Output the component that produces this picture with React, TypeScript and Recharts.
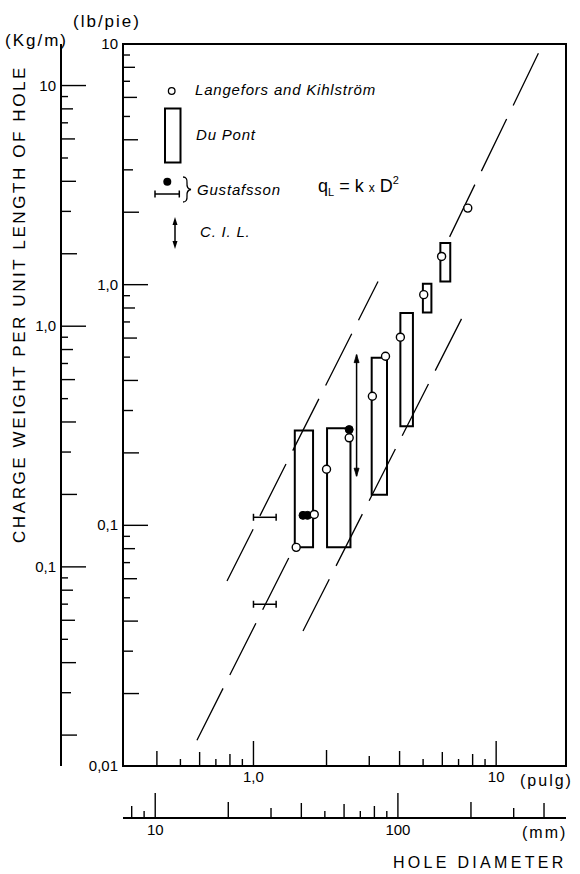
import React from 'react';
import { ComposedChart, XAxis, YAxis, Line, Scatter, ReferenceArea } from 'recharts';

const FONT = '"Liberation Sans", Arial, sans-serif';

// plotting units: inches (pulg) and lb/pie; mm and Kg/m axes are conversions
const X_DOMAIN_IN = [0.29, 19.4];
const Y_DOMAIN_LB = [0.01, 10];
const MM_PER_IN = 25.4;
const KGM_PER_LBFT = 1.488;

const inchTicks = [0.4, 0.5, 0.6, 0.7, 0.8, 0.9, 1, 2, 3, 4, 5, 6, 7, 8, 9, 10];
const inchLabelValues = [1, 10];
const inchLabelTexts = ['1,0', '10'];

const mmTicks = [8, 9, 10, 20, 30, 40, 50, 60, 70, 80, 90, 100, 200, 300, 400];
const mmLabelValues = [10, 100];
const mmLabelTexts = ['10', '100'];

const lbTicks = [
  0.01, 0.02, 0.03, 0.04, 0.05, 0.06, 0.07, 0.08, 0.09, 0.1,
  0.2, 0.3, 0.4, 0.5, 0.6, 0.7, 0.8, 0.9, 1,
  2, 3, 4, 5, 6, 7, 8, 9, 10,
];
const lbLabelValues = [0.01, 0.1, 1, 10];
const lbLabelTexts = ['0,01', '0,1', '1,0', '10'];

const kgTicks = [
  0.02, 0.03, 0.04, 0.05, 0.06, 0.07, 0.08, 0.09, 0.1,
  0.2, 0.3, 0.4, 0.5, 0.6, 0.7, 0.8, 0.9, 1,
  2, 3, 4, 5, 6, 7, 8, 9, 10,
];
const kgLabelValues = [0.1, 1, 10];
const kgLabelTexts = ['0,1', '1,0', '10'];

// Langefors and Kihlström (open circles)
const lkDiam = [1.5, 1.78, 2.0, 2.48, 3.09, 3.5, 4.03, 5.03, 5.96, 7.64];
const lkCharge = [0.081, 0.111, 0.171, 0.231, 0.344, 0.504, 0.605, 0.909, 1.31, 2.08];

// Du Pont (boxes)
const dpDiamLo = [1.48, 2.01, 3.07, 4.03, 4.99, 5.89];
const dpDiamHi = [1.76, 2.51, 3.55, 4.54, 5.41, 6.47];
const dpChargeLo = [0.081, 0.081, 0.134, 0.258, 0.767, 1.03];
const dpChargeHi = [0.248, 0.253, 0.497, 0.763, 1.01, 1.49];

// Gustafsson (filled dots and diameter ranges)
const gDotDiam = [1.6, 1.67, 2.48];
const gDotCharge = [0.11, 0.11, 0.25];
const gRangeLo = [1.0, 1.0];
const gRangeHi = [1.24, 1.24];
const gRangeCharge = [0.108, 0.047];

// C.I.L. (vertical range)
const cilDiam = [2.66, 2.66];
const cilCharge = [0.512, 0.16];

// q = k x D^2 guide lines (end points)
const upperDiam = [0.778, 3.26];
const upperCharge = [0.0587, 1.03];
const midLowDiam = [0.585, 1.415];
const midLowCharge = [0.0128, 0.075];
const midHighDiam = [6.43, 15.5];
const midHighCharge = [1.58, 9.9];
const lowerDiam = [1.6, 7.53];
const lowerCharge = [0.0364, 0.788];

const TICK_LEN = [0, 25, 16, 10, 15, 7, 14, 7, 12, 7];

// axis ids: the inner (lb/pie) axis must sort first to sit next to the plot
const LB = 'a_lb';
const KG = 'b_kg';

const pts = (xs: number[], ys: number[]) => xs.map((x, i) => ({ x, y: ys[i] }));

const tickLen = (v: number) => {
  const e = Math.floor(Math.log10(v) + 1e-9);
  const m = Math.round(v / Math.pow(10, e));
  return TICK_LEN[m] || 7;
};

const labelFor = (v: number, vals: number[], texts: string[]) => {
  const i = vals.findIndex((a) => Math.abs(a - v) < a * 1e-6);
  return i >= 0 ? texts[i] : null;
};

const makeXTick = (vals: number[], texts: string[], dy: number) => (props: any) => {
  const { x, y, payload } = props;
  const v = payload.value;
  const label = labelFor(v, vals, texts);
  return (
    <g>
      <line x1={x} x2={x} y1={y} y2={y - tickLen(v)} stroke="#000" strokeWidth={1.4} />
      {label && (
        <text x={x} y={y + dy} textAnchor="middle" fontSize={15} fontFamily={FONT} fill="#000">
          {label}
        </text>
      )}
    </g>
  );
};

const makeYTick = (vals: number[], texts: string[]) => (props: any) => {
  const { x, y, payload } = props;
  const v = payload.value;
  const label = labelFor(v, vals, texts);
  return (
    <g>
      <line x1={x} x2={x + tickLen(v)} y1={y} y2={y} stroke="#000" strokeWidth={1.4} />
      {label && (
        <text x={x - 5} y={y + 5} textAnchor="end" fontSize={15} fontFamily={FONT} fill="#000">
          {label}
        </text>
      )}
    </g>
  );
};

const openCircle = (p: any) => (
  <circle cx={p.cx} cy={p.cy} r={4} fill="#fff" stroke="#000" strokeWidth={1.4} />
);
const filledDot = (p: any) => <circle cx={p.cx} cy={p.cy} r={4} fill="#000" stroke="#000" />;
const noShape = () => <g />;
const capDot = (p: any) => (
  <line key={p.index} x1={p.cx} x2={p.cx} y1={p.cy - 3.5} y2={p.cy + 3.5} stroke="#000" strokeWidth={1.5} />
);
const arrowDot = (p: any) => {
  const dir = p.index === 0 ? -1 : 1;
  const { cx, cy } = p;
  return (
    <path
      key={p.index}
      d={`M${cx},${cy} L${cx - 2.5},${cy - dir * 8} L${cx + 2.5},${cy - dir * 8} Z`}
      fill="#000"
      stroke="#000"
      strokeWidth={0.8}
    />
  );
};

const dash = '58 15';
const lineStyle = { stroke: '#000', strokeWidth: 1.3 };

const Overlay = () => (
  <svg
    width={580}
    height={874}
    style={{ position: 'absolute', left: 0, top: 0, pointerEvents: 'none' }}
    fontFamily={FONT}
  >
    <text x={5} y={46} fontSize={17} letterSpacing={2}>(Kg/m)</text>
    <text x={73} y={27} fontSize={17} letterSpacing={2}>(lb/pie)</text>
    <text transform="translate(25,304) rotate(-90)" textAnchor="middle" fontSize={17} letterSpacing={2.6}>
      CHARGE WEIGHT PER UNIT LENGTH OF HOLE
    </text>
    <text x={520} y={786} fontSize={16} letterSpacing={2}>(pulg)</text>
    <text x={522} y={838} fontSize={16} letterSpacing={2}>(mm)</text>
    <text x={393} y={868} fontSize={16} letterSpacing={3.3}>HOLE DIAMETER</text>

    {/* key */}
    <circle cx={171.7} cy={91} r={3.3} fill="#fff" stroke="#000" strokeWidth={1.3} />
    <text x={195} y={95} fontSize={15} fontStyle="italic" letterSpacing={0.8}>Langefors and Kihlström</text>
    <rect x={165} y={108.5} width={15.5} height={54} fill="none" stroke="#000" strokeWidth={2} />
    <text x={196} y={140} fontSize={15} fontStyle="italic" letterSpacing={0.8}>Du Pont</text>
    <circle cx={167.3} cy={181.7} r={4} fill="#000" />
    <line x1={155} x2={179.3} y1={194} y2={194} stroke="#000" strokeWidth={1.5} />
    <line x1={155} x2={155} y1={190.5} y2={197.5} stroke="#000" strokeWidth={1.5} />
    <line x1={179.3} x2={179.3} y1={190.5} y2={197.5} stroke="#000" strokeWidth={1.5} />
    <path
      d="M183,177 Q187.5,177 187,183 Q186.5,189 191,189.5 Q186.5,190 187,196 Q187.5,202 183,202"
      fill="none"
      stroke="#000"
      strokeWidth={1.3}
    />
    <text x={197} y={195} fontSize={15} fontStyle="italic" letterSpacing={0.8}>Gustafsson</text>
    <text x={318} y={192} fontSize={18}>
      q<tspan dy={4} fontSize={11}>L</tspan>
      <tspan dy={-4}> = k </tspan>
      <tspan fontSize={12}>x</tspan>
      <tspan> D</tspan>
      <tspan dy={-8} fontSize={11}>2</tspan>
    </text>
    <line x1={175} x2={175} y1={220} y2={246} stroke="#000" strokeWidth={1.5} />
    <path d="M175,217 L172.5,225 L177.5,225 Z" fill="#000" />
    <path d="M175,249 L172.5,241 L177.5,241 Z" fill="#000" />
    <text x={200} y={237} fontSize={15} fontStyle="italic" letterSpacing={0.8}>C. I. L.</text>
  </svg>
);

export default function App() {
  const mmDomain = [X_DOMAIN_IN[0] * MM_PER_IN, X_DOMAIN_IN[1] * MM_PER_IN];
  const kgDomain = [Y_DOMAIN_LB[0] * KGM_PER_LBFT, Y_DOMAIN_LB[1] * KGM_PER_LBFT];
  const axisLine = { stroke: '#000', strokeWidth: 2 };

  return (
    <div style={{ position: 'absolute', left: 0, top: 0, width: 580, height: 874, background: '#fff' }}>
      <ComposedChart width={580} height={874} margin={{ top: 44, right: 14, bottom: 26, left: 0 }}>
        <XAxis
          xAxisId="in"
          dataKey="x"
          type="number"
          scale="log"
          domain={X_DOMAIN_IN}
          allowDataOverflow
          ticks={inchTicks}
          interval={0}
          height={52}
          tickSize={0}
          tickMargin={0}
          tickLine={false}
          axisLine={axisLine}
          tick={makeXTick(inchLabelValues, inchLabelTexts, 16)}
        />
        <XAxis
          xAxisId="mm"
          dataKey="x"
          type="number"
          scale="log"
          domain={mmDomain}
          allowDataOverflow
          ticks={mmTicks}
          interval={0}
          height={30}
          tickSize={0}
          tickMargin={0}
          tickLine={false}
          axisLine={axisLine}
          tick={makeXTick(mmLabelValues, mmLabelTexts, 17)}
        />
        <YAxis
          yAxisId={LB}
          dataKey="y"
          type="number"
          scale="log"
          domain={Y_DOMAIN_LB}
          allowDataOverflow
          ticks={lbTicks}
          interval={0}
          width={62}
          tickSize={0}
          tickMargin={0}
          tickLine={false}
          axisLine={axisLine}
          tick={makeYTick(lbLabelValues, lbLabelTexts)}
        />
        <YAxis
          yAxisId={KG}
          type="number"
          scale="log"
          domain={kgDomain}
          allowDataOverflow
          ticks={kgTicks}
          interval={0}
          width={61}
          tickSize={0}
          tickMargin={0}
          tickLine={false}
          axisLine={axisLine}
          tick={makeYTick(kgLabelValues, kgLabelTexts)}
        />

        <ReferenceArea
          xAxisId="in"
          yAxisId={LB}
          x1={X_DOMAIN_IN[0]}
          x2={X_DOMAIN_IN[1]}
          y1={Y_DOMAIN_LB[0]}
          y2={Y_DOMAIN_LB[1]}
          fill="none"
          fillOpacity={0}
          stroke="#000"
          strokeWidth={2}
        />

        <Line xAxisId="in" yAxisId={LB} data={pts(upperDiam, upperCharge)} dataKey="y" type="linear" {...lineStyle} strokeDasharray={dash} dot={false} activeDot={false} isAnimationActive={false} />
        <Line xAxisId="in" yAxisId={LB} data={pts(midLowDiam, midLowCharge)} dataKey="y" type="linear" {...lineStyle} strokeDasharray={dash} dot={false} activeDot={false} isAnimationActive={false} />
        <Line xAxisId="in" yAxisId={LB} data={pts(midHighDiam, midHighCharge)} dataKey="y" type="linear" {...lineStyle} strokeDasharray={dash} dot={false} activeDot={false} isAnimationActive={false} />
        <Line xAxisId="in" yAxisId={LB} data={pts(lowerDiam, lowerCharge)} dataKey="y" type="linear" {...lineStyle} strokeDasharray={dash} dot={false} activeDot={false} isAnimationActive={false} />

        {dpDiamLo.map((lo, i) => (
          <ReferenceArea
            key={'dp' + i}
            xAxisId="in"
            yAxisId={LB}
            x1={lo}
            x2={dpDiamHi[i]}
            y1={dpChargeLo[i]}
            y2={dpChargeHi[i]}
            fill="#fff"
            fillOpacity={1}
            stroke="#000"
            strokeWidth={2}
          />
        ))}

        {gRangeLo.map((lo, i) => (
          <Line
            key={'gr' + i}
            xAxisId="in"
            yAxisId={LB}
            data={pts([lo, gRangeHi[i]], [gRangeCharge[i], gRangeCharge[i]])}
            dataKey="y"
            type="linear"
            stroke="#000"
            strokeWidth={1.5}
            dot={capDot}
            activeDot={false}
            isAnimationActive={false}
          />
        ))}

        <Line
          xAxisId="in"
          yAxisId={LB}
          data={pts(cilDiam, cilCharge)}
          dataKey="y"
          type="linear"
          stroke="#000"
          strokeWidth={1.5}
          dot={arrowDot}
          activeDot={false}
          isAnimationActive={false}
        />

        {/* same L&K diameters in mm, invisible: gives the mm axis its data */}
        <Scatter
          xAxisId="mm"
          yAxisId={LB}
          data={pts(lkDiam.map((d) => d * MM_PER_IN), lkCharge)}
          shape={noShape}
          isAnimationActive={false}
        />
        <Scatter xAxisId="in" yAxisId={LB} data={pts(gDotDiam, gDotCharge)} shape={filledDot} isAnimationActive={false} />
        <Scatter xAxisId="in" yAxisId={LB} data={pts(lkDiam, lkCharge)} shape={openCircle} isAnimationActive={false} />
      </ComposedChart>
      <Overlay />
    </div>
  );
}
